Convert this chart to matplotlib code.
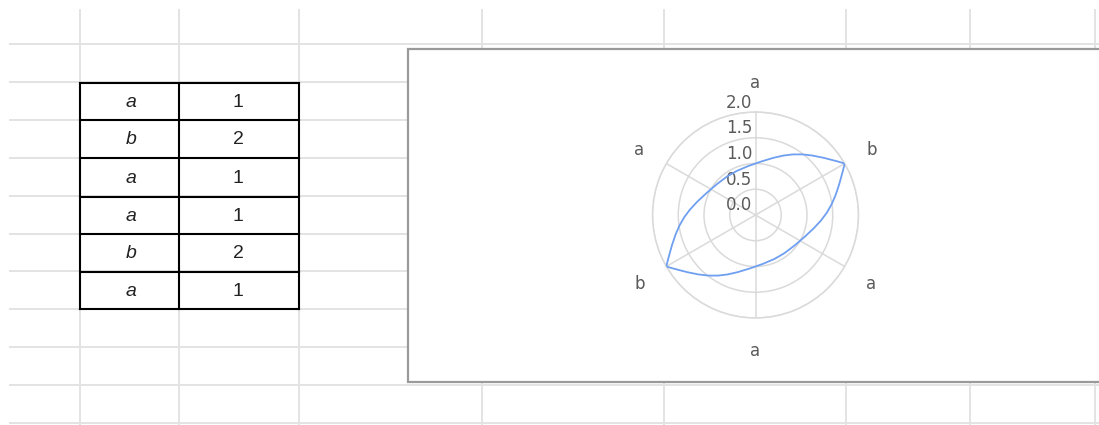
import numpy as np
import matplotlib
matplotlib.use('Agg')
import matplotlib.pyplot as plt
from matplotlib.path import Path
import matplotlib.patches as mpatches
import matplotlib.transforms as mtransforms

plt.rcParams['font.family'] = ['Liberation Sans', 'DejaVu Sans']

# data (same as the sheet cells)
categories = ['a', 'b', 'a', 'a', 'b', 'a']
values = [1, 2, 1, 1, 2, 1]
rticks = [0.0, 0.5, 1.0, 1.5, 2.0]
smooth = 1.3

W, H = 1099, 425
fig = plt.figure(figsize=(W / 100, H / 100), dpi=100)

# spreadsheet background in pixel coords
bg = fig.add_axes([0, 0, 1, 1])
bg.set_xlim(0, W)
bg.set_ylim(H, 0)
bg.axis('off')

grid_c = '#e3e3e3'
vlines = [80, 179, 299, 482, 664, 846, 970, 1095]
hlines = [44, 82, 120, 158, 196, 234, 271, 309, 347, 385, 423]
for x in vlines:
    bg.plot([x, x], [10, H], color=grid_c, lw=1.4, zorder=1)
for y in hlines:
    bg.plot([10, W], [y, y], color=grid_c, lw=1.4, zorder=1)

# table
col_x = [80, 179, 299]
row_y = [82.5, 120, 158, 196.5, 234, 271.5, 309]
for i, (cat, val) in enumerate(zip(categories, values)):
    yc = (row_y[i] + row_y[i + 1]) / 2 + 1
    bg.text((col_x[0] + col_x[1]) / 2 + 2, yc, cat, ha='center', va='center',
            fontsize=14, style='italic', color='#222222', zorder=4)
    bg.text((col_x[1] + col_x[2]) / 2 - 1, yc, str(val), ha='center', va='center',
            fontsize=14, color='#222222', zorder=4)
for x in col_x:
    bg.plot([x, x], [row_y[0], row_y[-1]], color='black', lw=1.5, zorder=3,
            solid_capstyle='projecting')
for y in row_y:
    bg.plot([col_x[0], col_x[-1]], [y, y], color='black', lw=1.5, zorder=3,
            solid_capstyle='projecting')

# chart box
box = mpatches.Rectangle((407.5, 48.5), 720, 333, facecolor='white',
                         edgecolor='#9a9a9a', lw=1.6, zorder=2)
bg.add_patch(box)

# radar
cx, cy, R = 755.5, 215, 103
ax = fig.add_axes([(cx - R) / W, (H - cy - R) / H, 2 * R / W, 2 * R / H],
                  projection='polar', zorder=5)
ax.patch.set_alpha(0)
ax.set_theta_zero_location('N')
ax.set_theta_direction(-1)
ax.set_ylim(0, max(rticks))
n = len(categories)
angles = np.arange(n) * 2 * np.pi / n
ax.set_xticks(angles)
ax.set_xticklabels([])
ax.set_yticks(rticks[1:])
ax.set_yticklabels([])
ax.grid(True, color='#dadada', lw=1.1)
ax.spines['polar'].set_color('#dadada')
ax.spines['polar'].set_linewidth(1.1)
ax.tick_params(length=0)

chart_font = ['DejaVu Sans']
for ang, cat in zip(angles, categories):
    ax.text(ang, max(rticks) * 134 / 103, cat, ha='center', va='center_baseline',
            fontsize=12, color='#5a5a5a', family=chart_font)

lab_tr = mtransforms.offset_copy(ax.transData, fig=fig, x=-3.5, y=9.5, units='dots')
for r in rticks:
    ax.text(0, r, f'{r:.1f}', ha='right', va='center', fontsize=12,
            color='#5a5a5a', transform=lab_tr, family=chart_font)

# smooth closed line: chord-length cubic spline, broken where x turns back
pts = np.array([[v * np.sin(a), v * np.cos(a)] for v, a in zip(values, angles)])


def tangent(p0, p1, p2, at):
    # derivative of the quadratic through p0, p1, p2 (chord-length parameter)
    d1 = np.hypot(*(p1 - p0))
    d2 = np.hypot(*(p2 - p1))
    s = d1 + d2
    if at == 0:
        return -p0 * (2 * d1 + d2) / (d1 * s) + p1 * s / (d1 * d2) - p2 * d1 / (d2 * s)
    if at == 1:
        return -p0 * d2 / (d1 * s) + p1 * (d2 - d1) / (d1 * d2) + p2 * d1 / (d2 * s)
    return p0 * d2 / (d1 * s) - p1 * s / (d1 * d2) + p2 * (d1 + 2 * d2) / (d2 * s)


t_in, t_out = [], []
for i in range(n):
    pm2, pm1, p, pp1, pp2 = (pts[(i + k) % n] for k in (-2, -1, 0, 1, 2))
    if (p[0] - pm1[0]) * (pp1[0] - p[0]) < 0:
        t_in.append(tangent(pm2, pm1, p, 2))
        t_out.append(tangent(p, pp1, pp2, 0))
    else:
        t = tangent(pm1, p, pp1, 1)
        t_in.append(t)
        t_out.append(t)

verts = [pts[0]]
codes = [Path.MOVETO]
for i in range(n):
    j = (i + 1) % n
    d = np.hypot(*(pts[j] - pts[i])) / 3 * smooth
    verts += [pts[i] + t_out[i] * d, pts[j] - t_in[j] * d, pts[j]]
    codes += [Path.CURVE4] * 3
path = Path(verts, codes)
line = mpatches.PathPatch(path, facecolor='none', edgecolor='#6f9ff0', lw=1.3,
                          transform=ax.transProjectionAffine + ax.transWedge + ax.transAxes,
                          zorder=6)
ax.add_patch(line)

fig.savefig('out.png', dpi=100)
